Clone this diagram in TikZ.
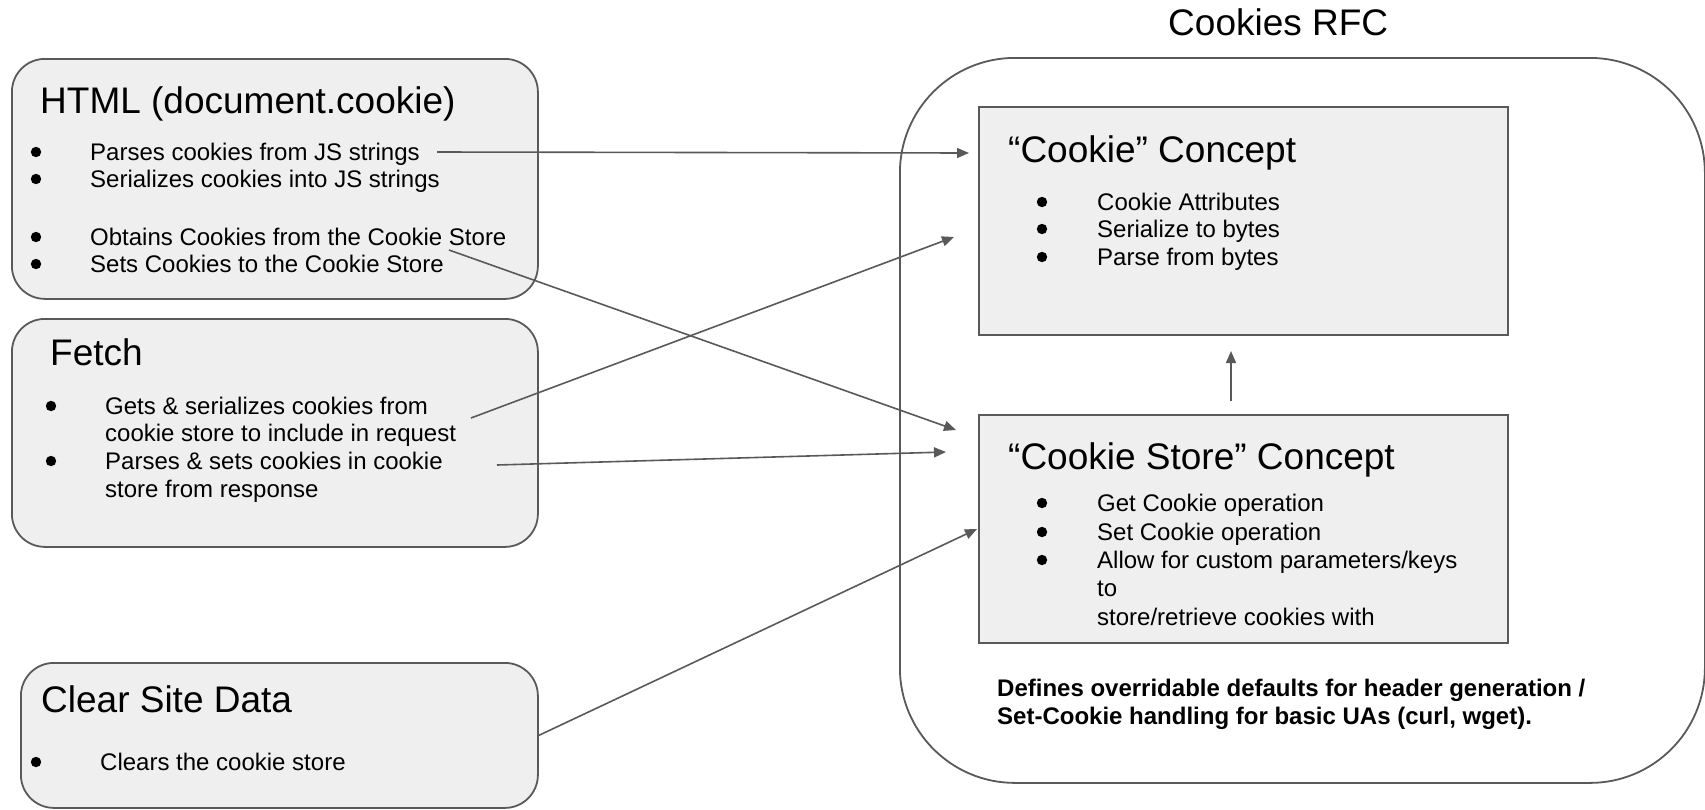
\documentclass[tikz,border=0pt]{standalone}
\usepackage{fontspec}
\setmainfont{Liberation Sans}
\usetikzlibrary{arrows.meta}
\definecolor{edge}{HTML}{595959}
\definecolor{panel}{HTML}{EFEFEF}
\begin{document}
\begin{tikzpicture}[x=1pt,y=-1pt,
  card/.style={draw=edge,fill=panel,line width=1.8pt,rounded corners=33pt,anchor=north west,inner sep=0pt},
  concept/.style={draw=edge,fill=panel,line width=1.8pt,anchor=north west,inner sep=0pt},
  frame/.style={draw=edge,fill=white,line width=1.8pt,rounded corners=115pt,anchor=north west,inner sep=0pt},
  heading/.style={anchor=base west,inner sep=0pt,font=\fontsize{37}{44}\selectfont},
  item/.style={anchor=base west,inner sep=0pt,font=\fontsize{24}{28}\selectfont},
  note/.style={anchor=base west,inner sep=0pt,font=\bfseries\fontsize{24}{28}\selectfont},
  bullet/.style={fill=black},
  link/.style={draw=edge,line width=1.6pt,-{Triangle[length=12pt,width=10pt]}},
]
\useasboundingbox (0,0) rectangle (1705,809);

% containers
\node[frame, minimum width=805pt, minimum height=725pt] (rfcbox) at (899,57) {};
\node[card, minimum width=526pt, minimum height=240pt] (html) at (11,58) {};
\node[card, minimum width=526pt, minimum height=228pt] (fetch) at (11,318) {};
\node[card, minimum width=517pt, minimum height=145pt] (clear) at (20,662) {};
\node[concept, minimum width=529pt, minimum height=228pt] (cookie) at (978,106) {};
\node[concept, minimum width=529pt, minimum height=228pt] (store) at (978,414) {};

% titles
\node[heading] (rfcT) at (1168,35) {Cookies RFC};
\node[heading] (htmlT) at (40,113) {HTML (document.cookie)};
\node[heading] (fetchT) at (50,365) {Fetch};
\node[heading] (clearT) at (41,712) {Clear Site Data};
\node[heading] (cookieT) at (1008,162) {“Cookie” Concept};
\node[heading] (storeT) at (1008,469) {“Cookie Store” Concept};

% HTML items
\fill[bullet] (36,152) circle (5.2pt);
\fill[bullet] (36,179) circle (5.2pt);
\fill[bullet] (36,237) circle (5.2pt);
\fill[bullet] (36,264) circle (5.2pt);
\node[item] (h1) at (90,160) {Parses cookies from JS strings};
\node[item] (h2) at (90,187) {Serializes cookies into JS strings};
\node[item] (h3) at (90,245) {Obtains Cookies from the Cookie Store};
\node[item] (h4) at (90,272) {Sets Cookies to the Cookie Store};

% Fetch items
\fill[bullet] (51,406) circle (5.2pt);
\fill[bullet] (51,461) circle (5.2pt);
\node[item] (f1) at (105,414) {Gets \& serializes cookies from};
\node[item] (f2) at (105,441) {cookie store to include in request};
\node[item] (f3) at (105,469) {Parses \& sets cookies in cookie};
\node[item] (f4) at (105,497) {store from response};

% Clear Site Data item
\fill[bullet] (36,762) circle (5.2pt);
\node[item] (c1) at (100,770) {Clears the cookie store};

% Cookie concept items
\fill[bullet] (1042,202) circle (5.2pt);
\fill[bullet] (1042,229) circle (5.2pt);
\fill[bullet] (1042,257) circle (5.2pt);
\node[item] (k1) at (1097,210) {Cookie Attributes};
\node[item] (k2) at (1097,237) {Serialize to bytes};
\node[item] (k3) at (1097,265) {Parse from bytes};

% Cookie store items
\fill[bullet] (1042,503) circle (5.2pt);
\fill[bullet] (1042,532) circle (5.2pt);
\fill[bullet] (1042,560) circle (5.2pt);
\node[item] (s1) at (1097,511) {Get Cookie operation};
\node[item] (s2) at (1097,540) {Set Cookie operation};
\node[item] (s3) at (1097,568) {Allow for custom parameters/keys};
\node[item] (s4) at (1097,596) {to};
\node[item] (s5) at (1097,625) {store/retrieve cookies with};

% note
\node[note] (n1) at (997,696) {Defines overridable defaults for header generation /};
\node[note] (n2) at (997,724) {Set-Cookie handling for basic UAs (curl, wget).};

% connector ends
\coordinate (p1) at (437,152);
\coordinate (q1) at (969,153);
\coordinate (p2) at (471,418);
\coordinate (q2) at (954,237);
\coordinate (p3) at (449,250);
\coordinate (q3) at (956,430);
\coordinate (p4) at (497,465);
\coordinate (q4) at (946,452);
\coordinate (q5) at (977,529);
\coordinate (p6) at (1231,401);
\coordinate (q6) at (1231,351);

% connectors
\draw[link] (p1) -- (q1);
\draw[link] (p2) -- (q2);
\draw[link] (p3) -- (q3);
\draw[link] (p4) -- (q4);
\draw[link] (clear.east) -- (q5);
\draw[link] (p6) -- (q6);
\end{tikzpicture}
\end{document}
